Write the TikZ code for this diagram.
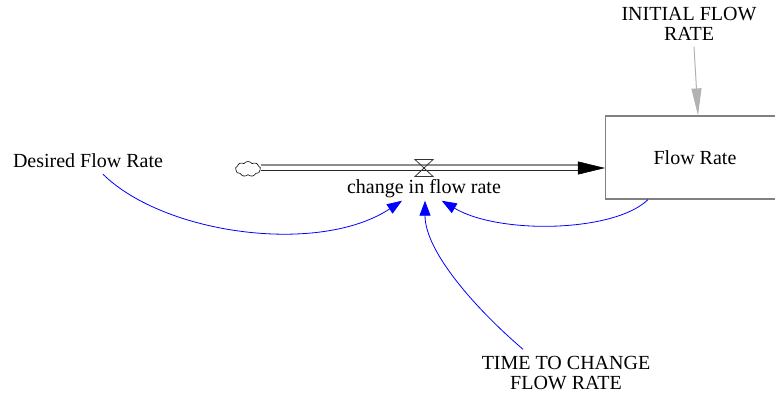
\documentclass[tikz,border=0pt]{standalone}
\usepackage{fontspec}
\setmainfont{Liberation Serif}
\usetikzlibrary{arrows.meta,shapes.symbols,calc}
\begin{document}
\begin{tikzpicture}[x=1pt,y=-1pt,
  lbl/.style={inner sep=0pt,align=center,font=\fontsize{20}{19.5}\selectfont,text=black},
  infl/.style={draw=blue!75!white,line width=0.8pt,-{Triangle[length=15pt,width=11pt]},blue},
  stockbox/.style={draw=black!50,line width=1.2pt,minimum width=179pt,minimum height=83pt,inner sep=0pt,font=\fontsize{20}{20}\selectfont},
  pipeA/.style={draw=black!45,line width=1.3pt},
  pipeB/.style={draw=black!85,line width=1.1pt}]
\useasboundingbox (0,0) rectangle (775,394);
% stock
\node[stockbox] (box) at (695,157.5) {Flow Rate};
% labels
\node[lbl] (init) at (689,24) {INITIAL FLOW\\RATE};
\node[lbl] (dfr) at (88,161) {Desired Flow Rate};
\node[lbl] (cfr) at (424,188.8) {change in flow rate};
\node[lbl] (ttc) at (566,373) {TIME TO CHANGE\\FLOW RATE};
% cloud
\node[cloud,draw=black,line width=0.6pt,cloud puffs=9,cloud puff arc=110,aspect=1.6,minimum width=25pt,minimum height=15pt,inner sep=0pt] (cloud) at (248,169) {};
% pipe
\coordinate (pin) at ($(box.west)+(0,10.5)$);
\coordinate (pout) at (cloud.east |- pin);
\coordinate (valve) at (424,168);
\draw[pipeA] ([yshift=3pt]pout) -- ([yshift=3pt,xshift=-25pt]pin);
\draw[pipeB] ([yshift=-2.5pt]pout) -- ([yshift=-2.5pt,xshift=-25pt]pin);
\draw[line width=0.5pt,-{Triangle[length=27pt,width=13pt]}] ([xshift=-27pt]pin) -- (pin);
% valve
\draw[black!80,line width=0.8pt] ($(valve)+(-9,-8.5)$) -- ($(valve)+(9,-8.5)$) -- ($(valve)+(-9,8.5)$) -- ($(valve)+(9,8.5)$) -- cycle;
% initial value link
\draw[draw=black!30,line width=1pt,-{Triangle[length=27pt,width=10pt]},black!30] ([xshift=5pt,yshift=-6pt]init.south) -- ([xshift=3pt]box.north);
% influence links
\draw[infl] ([xshift=15pt,yshift=-6pt]dfr.south) .. controls (165,235) and (320,255) .. ([xshift=-22pt,yshift=-2.5pt]cfr.south);
\draw[infl] ([xshift=-43pt,yshift=7pt]ttc.north) .. controls (477,310) and (425,252) .. ([xshift=1pt,yshift=-2.5pt]cfr.south);
\draw[infl] ([xshift=-47pt]box.south) .. controls (615,232) and (500,235) .. ([xshift=17.7pt,yshift=-2.5pt]cfr.south);
\end{tikzpicture}
\end{document}
